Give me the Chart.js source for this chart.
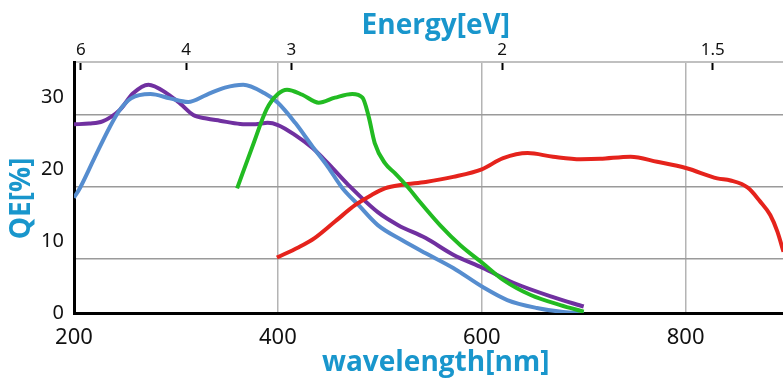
<!DOCTYPE html>
<html lang="en">
<head>
  <meta charset="UTF-8">
  <title>QE vs wavelength</title>
  <script src="https://cdn.jsdelivr.net/npm/chart.js"></script>
  <style>
    body { margin: 0; background: #fff; }
    canvas { display: block; }
  </style>
</head>
<body>
  <canvas id="qeChart" width="783" height="380"></canvas>

  <script>
    // axis values
    const xTicks = [200, 400, 600, 800];
    const yLabels = [0, 10, 20, 30];
    const yGridLines = [7.5, 17.5, 27.5];
    const energyTicks = [6, 4, 3, 2, 1.5];

    // curves (wavelength nm / QE %)
    const purpleWl = [200, 215, 228, 245, 258, 273, 291, 304, 317, 330, 343, 363, 378, 390, 400, 417, 434, 449, 469, 498, 518, 545, 572, 601, 631, 670, 700];
    const purpleQe = [26.2, 26.3, 26.6, 28.2, 30.5, 31.7, 30.5, 29.1, 27.5, 27.0, 26.7, 26.25, 26.2, 26.4, 26.1, 24.7, 22.9, 20.8, 17.8, 14.0, 12.2, 10.4, 8.1, 6.25, 4.2, 2.2, 0.9];

    const blueWl = [200, 206, 220, 235, 245, 256, 275, 294, 312, 330, 348, 366, 387, 400, 417, 434, 449, 463, 479, 498, 522, 545, 572, 601, 625, 654, 680, 700];
    const blueQe = [16.0, 17.4, 21.5, 25.8, 28.2, 29.8, 30.4, 29.8, 29.3, 30.3, 31.3, 31.7, 30.5, 29.2, 26.4, 23.1, 20.3, 17.4, 15.0, 12.2, 10.1, 8.3, 6.25, 3.6, 1.8, 0.7, 0.15, 0];

    const greenWl = [360, 375, 389, 400, 409, 424, 440, 456, 473, 483, 489, 495, 505, 515, 528, 540, 559, 579, 601, 621, 648, 677, 700];
    const greenQe = [17.3, 23.1, 28.3, 30.4, 31.0, 30.3, 29.2, 29.9, 30.4, 29.9, 27.3, 23.6, 20.8, 19.4, 17.4, 15.3, 12.2, 9.4, 6.9, 4.6, 2.5, 1.1, 0.2];

    const redWl = [399, 420, 436, 456, 476, 492, 505, 522, 545, 572, 600, 621, 645, 670, 697, 716, 746, 772, 801, 831, 844, 861, 873, 883, 890, 896];
    const redQe = [7.7, 9.1, 10.4, 12.7, 15.0, 16.4, 17.3, 17.8, 18.2, 18.9, 19.95, 21.5, 22.2, 21.7, 21.35, 21.4, 21.7, 21.0, 20.1, 18.7, 18.4, 17.4, 15.5, 13.6, 11.3, 8.5];

    const titleBlue = '#1996cc';
    const titleFont = { family: 'Open Sans', size: 28, weight: 'bold' };
    const toPoints = (xs, ys) => xs.map((x, i) => ({ x: x, y: ys[i] }));

    function series(xs, ys, color) {
      return {
        data: toPoints(xs, ys),
        borderColor: color,
        borderWidth: 4,
        pointRadius: 0,
        tension: 0.4,
        cubicInterpolationMode: 'monotone',
        fill: false
      };
    }

    const ctx = document.getElementById('qeChart').getContext('2d');
    new Chart(ctx, {
      type: 'line',
      data: {
        datasets: [
          series(greenWl, greenQe, '#22bb22'),
          series(redWl, redQe, '#e5231c'),
          series(blueWl, blueQe, '#568dcf'),
          series(purpleWl, purpleQe, '#7030a0')
        ]
      },
      options: {
        responsive: false,
        animation: false,
        layout: { padding: 0 },
        plugins: {
          legend: { display: false },
          tooltip: { enabled: false }
        },
        scales: {
          x: {
            type: 'linear',
            position: 'bottom',
            min: 200,
            max: 895.5,
            afterBuildTicks: (scale) => { scale.ticks = xTicks.map(v => ({ value: v })); },
            afterFit: (scale) => { scale.height = 67; },
            ticks: {
              padding: 12,
              color: '#111',
              font: { family: 'Noto Sans', size: 22 }
            },
            grid: {
              drawTicks: false,
              color: (c) => (c.tick && c.tick.value === 200) ? 'transparent' : '#b4b4b4',
              lineWidth: 1.5
            },
            border: { color: '#000', width: 3 },
            title: {
              display: true,
              text: '  wavelength[nm]',
              color: titleBlue,
              padding: { top: 0, bottom: 0 },
              font: titleFont
            }
          },
          x2: {
            type: 'linear',
            position: 'top',
            min: 200,
            max: 895.5,
            afterBuildTicks: (scale) => { scale.ticks = energyTicks.map(e => ({ value: 1240 / e })); },
            afterFit: (scale) => { scale.height = 62; },
            ticks: {
              padding: 10,
              color: '#111',
              font: { family: 'Noto Sans', size: 17 },
              callback: (v, i) => String(energyTicks[i])
            },
            grid: {
              drawOnChartArea: false,
              tickLength: -8,
              tickWidth: 2,
              tickColor: '#000'
            },
            border: { color: '#c0c0c0', width: 2 },
            title: {
              display: true,
              text: '  Energy[eV]',
              color: titleBlue,
              padding: { top: 9, bottom: 0 },
              font: titleFont
            }
          },
          y: {
            type: 'linear',
            min: 0,
            max: 34.85,
            afterBuildTicks: (scale) => {
              scale.ticks = yLabels.concat(yGridLines).sort((a, b) => a - b).map(v => ({ value: v }));
            },
            afterFit: (scale) => { scale.width = 74; },
            ticks: {
              padding: 10,
              color: '#111',
              font: { family: 'Noto Sans', size: 20 },
              callback: (v) => yLabels.includes(v) ? String(v) : ''
            },
            grid: {
              drawTicks: false,
              color: (c) => (c.tick && yGridLines.includes(c.tick.value)) ? '#9a9a9a' : 'transparent',
              lineWidth: 1.5
            },
            border: { color: '#000', width: 3 },
            title: {
              display: true,
              text: 'QE[%]   ',
              color: titleBlue,
              padding: { top: 5, bottom: 0 },
              font: titleFont
            }
          }
        }
      }
    });
  </script>
</body>
</html>
